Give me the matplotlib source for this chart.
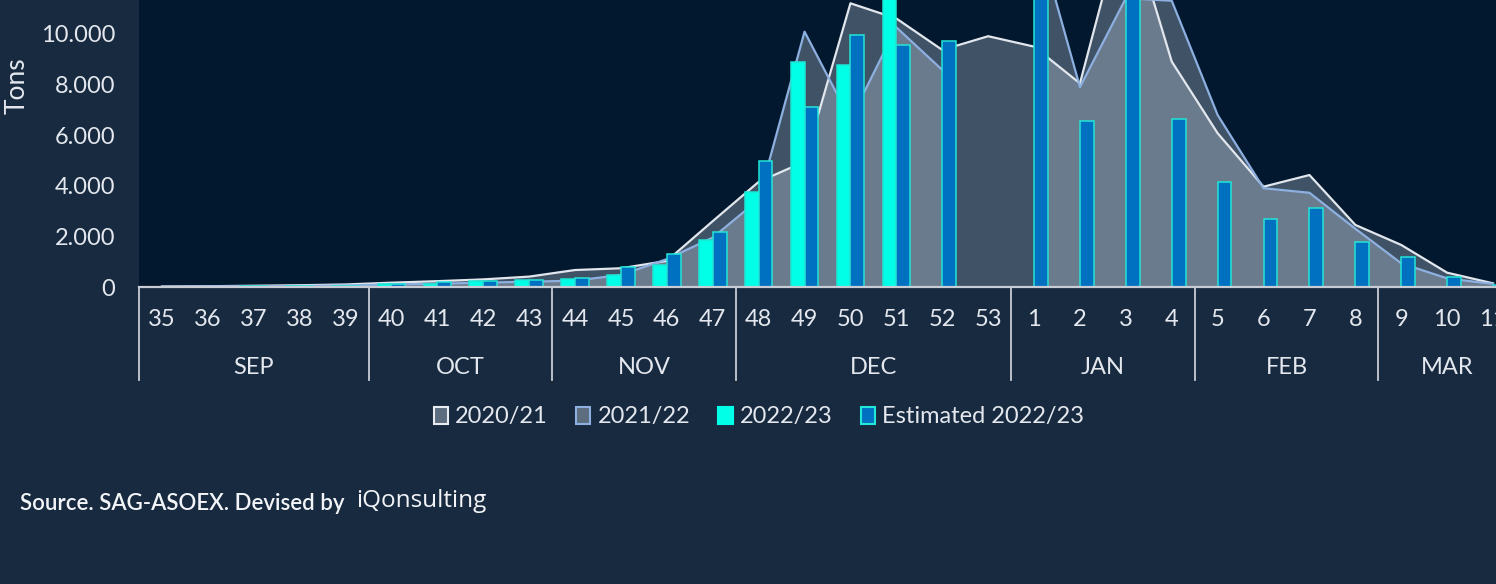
import numpy as np
import matplotlib.pyplot as plt
from matplotlib.patches import Patch
from matplotlib.transforms import blended_transform_factory

plt.rcParams['font.family'] = ['Lato', 'DejaVu Sans']

# week categories and month groups
weeks = ['35', '36', '37', '38', '39', '40', '41', '42', '43', '44', '45', '46', '47',
         '48', '49', '50', '51', '52', '53', '1', '2', '3', '4', '5', '6', '7', '8',
         '9', '10', '11']
months = ['SEP', 'OCT', 'NOV', 'DEC', 'JAN', 'FEB', 'MAR']
month_weeks = [5, 4, 4, 6, 4, 4, 3]

nan = np.nan
# tons per week
s2020_21 = [20, 30, 50, 70, 100, 170, 230, 300, 410, 670, 740, 1030, 2600, 4150,
            4950, 11200, 10600, 9360, 9900, 9490, 8040, 14900, 8900, 6070, 3960,
            4420, 2450, 1660, 565, 145]
s2021_22 = [10, 20, 30, 40, 60, 100, 130, 170, 210, 250, 475, 1100, 1950, 3450,
            10080, 6600, 10250, 8570, nan, 14370, 7890, 11400, 11300, 6790, 3900,
            3720, 2300, 935, 340, 120]
s2022_23 = [15, 15, 20, 25, 30, 100, 110, 240, 290, 330, 475, 870, 1870, 3760,
            8900, 8770, 12500, nan, nan, nan, nan, nan, nan, nan, nan, nan, nan,
            nan, nan, nan]
est_2022_23 = [15, 15, 20, 25, 30, 130, 180, 230, 290, 370, 780, 1290, 2160, 4970,
               7120, 9950, 9550, 9720, nan, 12500, 6570, 12500, 6630, 4130, 2700,
               3130, 1780, 1170, 395, 60]

W, H = 1496, 584
fig = plt.figure(figsize=(W / 100, H / 100), dpi=100, facecolor='#172a40')
ax = fig.add_axes([139 / W, 1 - 287 / H, (W - 139) / W, 287 / H])
ax.set_facecolor('#02182e')

x = np.arange(len(weeks))
txt = '#e4e8ee'
fill_c = '#cfdbea'

ax.fill_between(x, s2020_21, color=fill_c, alpha=0.3, lw=0, zorder=1)
ax.fill_between(x, s2021_22, color=fill_c, alpha=0.3, lw=0, zorder=1)
ax.plot(x, s2020_21, color='#e2e7ee', lw=1.6, zorder=2)
ax.plot(x, s2021_22, color='#8db0e0', lw=1.6, zorder=2)

bw = 0.3
ax.bar(x - bw / 2, s2022_23, width=bw, color='#00ffe6', edgecolor='#1de6d4',
       lw=1.1, zorder=3)
ax.bar(x + bw / 2, est_2022_23, width=bw, color='#0070c0', edgecolor='#22e6d6',
       lw=1.1, zorder=3)

ax.set_xlim(-0.5, -0.5 + (W - 139) / 45.9)
ax.set_ylim(0, 11330)
ax.set_yticks(range(0, 10001, 2000))
ax.set_yticklabels([f'{v:,}'.replace(',', '.') for v in range(0, 10001, 2000)])
ax.tick_params(axis='y', length=0, pad=17, labelsize=17, labelcolor=txt)
ax.set_xticks([])
for s in ['top', 'right', 'left']:
    ax.spines[s].set_visible(False)
ax.spines['bottom'].set_color('#c8cdd5')
ax.spines['bottom'].set_linewidth(1.6)
ax.spines['bottom'].set_zorder(5)

tr = blended_transform_factory(ax.transData, ax.transAxes)
for i, w in enumerate(weeks):
    ax.text(i, -33 / 287, w, transform=tr, ha='center', va='center',
            fontsize=17, color=txt, clip_on=False)

start = -0.5
for m, n in zip(months, month_weeks):
    ax.plot([start, start], [0, -93 / 287], transform=tr, color='#c8cdd5',
            lw=1.3, clip_on=False)
    ax.text(start + n / 2, -80 / 287, m, transform=tr, ha='center', va='center',
            fontsize=17, color=txt, clip_on=False)
    start += n

fig.text(17 / W, 1 - 86 / H, 'Tons', rotation=90, ha='center', va='center',
         fontsize=19, color=txt)

handles = [
    Patch(facecolor='#5c6d80', edgecolor='#e8ecf0', lw=1.5),
    Patch(facecolor='#5c6d80', edgecolor='#8db0e0', lw=1.5),
    Patch(facecolor='#00ffe6', edgecolor='#00ffe6', lw=1.5),
    Patch(facecolor='#0070c0', edgecolor='#22e6d6', lw=1.5),
]
fig.legend(handles, ['2020/21', '2021/22', '2022/23', 'Estimated 2022/23'],
           loc='center', bbox_to_anchor=(759 / W, 1 - 417 / H), ncol=4,
           frameon=False, fontsize=17, labelcolor=txt, handlelength=0.6,
           handleheight=0.7, handletextpad=0.3, columnspacing=1.2)

fig.text(20 / W, 1 - 503 / H, 'Source. SAG-ASOEX. Devised by', fontsize=16,
         fontweight='semibold', color='#f2f4f7', va='center')
fig.text(356 / W, 1 - 501 / H, 'iQonsulting', fontsize=17.5, family='Open Sans',
         color='#f2f4f7', va='center')

fig.savefig('out.png', dpi=100, facecolor=fig.get_facecolor())
